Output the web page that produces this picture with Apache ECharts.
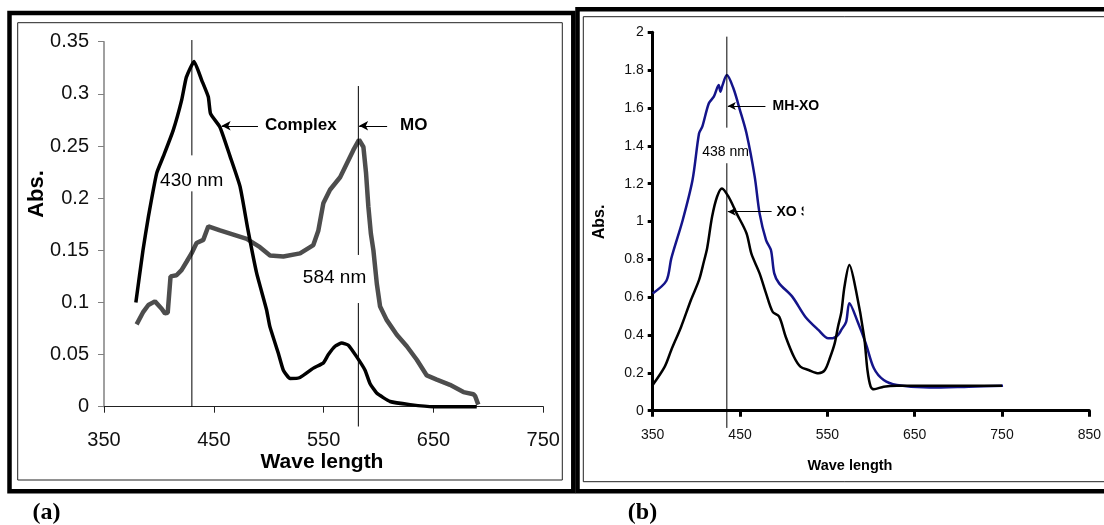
<!DOCTYPE html>
<html lang="en">
    <head>
        <meta charset="UTF-8">
        <script src="https://cdn.jsdelivr.net/npm/echarts@6/dist/echarts.min.js"></script>
        <title>Absorption spectra (a) and (b)</title>
        <style>
            body { margin: 0; background: #fff; }
        </style>
    </head>
    <body>
        <div id="chart-container" style="width: 1104px; height: 525px;"></div>

        <script>
            // panel (a): complex and MO spectra
            const complexWl = [379, 385.5, 390.4, 398, 404, 413, 420.7, 425, 432, 439, 445, 447, 455.6, 464.8, 473.9, 481, 489, 498, 501, 508.8, 513.3, 519.4, 528.5, 540.7, 549.8, 554.3, 560.4, 566.5, 572.5, 580, 587.7, 592.3, 598.4, 610.5, 628.7, 650, 689.4];
            const complexAbs = [0.100, 0.150, 0.182, 0.224, 0.240, 0.265, 0.294, 0.316, 0.331, 0.313, 0.297, 0.281, 0.268, 0.240, 0.211, 0.170, 0.128, 0.093, 0.077, 0.051, 0.035, 0.027, 0.028, 0.037, 0.042, 0.050, 0.058, 0.061, 0.059, 0.048, 0.035, 0.022, 0.013, 0.005, 0.002, 0.000, 0.000];

            const moWl = [379.7, 385.8, 390.4, 396.4, 402.5, 405.5, 408, 410.6, 416, 420.6, 425.2, 429.7, 434.3, 440.4, 445, 455.6, 467.8, 480, 492, 501.2, 513.3, 528.5, 540.6, 545.2, 549.7, 555.8, 565, 571, 577, 582.2, 586.2, 588.6, 590.7, 593, 595.3, 598.4, 601.4, 607.5, 616.6, 625.7, 634.8, 643.9, 653, 665, 677.3, 686.4, 688, 690.8];
            const moAbs = [0.079, 0.091, 0.0975, 0.101, 0.094, 0.0895, 0.090, 0.125, 0.126, 0.131, 0.139, 0.147, 0.157, 0.160, 0.173, 0.169, 0.165, 0.161, 0.153, 0.145, 0.144, 0.147, 0.155, 0.169, 0.195, 0.208, 0.220, 0.233, 0.246, 0.256, 0.249, 0.224, 0.192, 0.166, 0.150, 0.118, 0.096, 0.083, 0.069, 0.058, 0.045, 0.030, 0.026, 0.021, 0.014, 0.012, 0.010, 0.002];

            // panel (b): MH-XO and XO spectra
            const mhxoWl = [350, 365.7, 371.3, 384.4, 395.6, 403.1, 406.8, 414.3, 420, 425.6, 427.5, 430, 434.9, 442.4, 449.9, 457.4, 466.8, 472.4, 479.8, 485.4, 489.2, 494.8, 509.8, 524.7, 539.7, 551, 556, 562.2, 566, 571.5, 575.2, 584.7, 594, 603.3, 614.5, 629.6, 667, 711.9, 751.2];
            const mhxoAbs = [0.620, 0.687, 0.805, 1.008, 1.219, 1.466, 1.501, 1.625, 1.660, 1.721, 1.686, 1.721, 1.774, 1.704, 1.589, 1.466, 1.237, 1.043, 0.902, 0.849, 0.726, 0.673, 0.603, 0.497, 0.427, 0.383, 0.383, 0.400, 0.427, 0.470, 0.568, 0.470, 0.356, 0.224, 0.162, 0.136, 0.122, 0.127, 0.132];

            const xoWl = [350, 363.8, 371.3, 382.6, 393.8, 403.1, 408.7, 412.4, 418, 423.7, 429.3, 436.8, 446.1, 457.4, 463, 472.4, 479.8, 487.3, 494.8, 502.3, 511.7, 519.1, 528.5, 539.8, 547.2, 553, 558.4, 562.2, 566, 569.6, 575.2, 582.7, 592.1, 595.9, 599.6, 603.3, 614.5, 629.6, 750];
            const xoAbs = [0.136, 0.233, 0.321, 0.444, 0.585, 0.691, 0.790, 0.860, 1.025, 1.131, 1.175, 1.131, 1.043, 0.938, 0.830, 0.726, 0.620, 0.523, 0.497, 0.391, 0.285, 0.233, 0.215, 0.198, 0.215, 0.280, 0.356, 0.444, 0.520, 0.655, 0.770, 0.638, 0.391, 0.215, 0.127, 0.113, 0.127, 0.132, 0.132];

            // axis ticks
            const xTicksA = [350, 750, 100];
            const yTicksA = [0, 0.35, 0.05];
            const xTicksB = [350, 850, 100];
            const yTicksB = [0, 2, 0.2];

            const font = "'Liberation Sans', Arial, sans-serif";
            const zip = (xs, ys) => xs.map((x, i) => [x, ys[i]]);
            const arrow = (x0, x1, y) => [[{coord: [x0, y]}, {coord: [x1, y]}]];

            const chartContainer = document.getElementById('chart-container');
            const chart = echarts.init(chartContainer);

            const markStyle = {
                silent: true,
                animation: false,
                label: {show: false},
                lineStyle: {color: '#000', width: 1, type: 'solid'}
            };

            const options = {
                animation: false,
                backgroundColor: '#fff',
                grid: [
                    {left: 104, top: 41.7, width: 439.3, height: 365},
                    {left: 652.7, top: 32.3, width: 445.6, height: 378.4}
                ],
                xAxis: [
                    {
                        type: 'value', gridIndex: 0,
                        min: xTicksA[0], max: xTicksA[1], interval: xTicksA[2],
                        axisLine: {lineStyle: {color: '#222', width: 1}},
                        axisTick: {show: true, length: 6, lineStyle: {color: '#222'}},
                        axisLabel: {color: '#111', fontSize: 20, fontFamily: font, margin: 24},
                        splitLine: {show: false}
                    },
                    {
                        type: 'value', gridIndex: 1,
                        min: xTicksB[0], max: xTicksB[1], interval: xTicksB[2],
                        axisLine: {lineStyle: {color: '#000', width: 3}},
                        axisTick: {show: true, length: 6, lineStyle: {color: '#000', width: 3}},
                        axisLabel: {color: '#111', fontSize: 14, fontFamily: font, margin: 17},
                        splitLine: {show: false}
                    }
                ],
                yAxis: [
                    {
                        type: 'value', gridIndex: 0,
                        min: yTicksA[0], max: yTicksA[1], interval: yTicksA[2],
                        axisLine: {show: true, lineStyle: {color: '#808080', width: 1.5}},
                        axisTick: {show: true, length: 6, lineStyle: {color: '#808080'}},
                        axisLabel: {color: '#111', fontSize: 20, fontFamily: font, margin: 15},
                        splitLine: {show: false}
                    },
                    {
                        type: 'value', gridIndex: 1,
                        min: yTicksB[0], max: yTicksB[1], interval: yTicksB[2],
                        axisLine: {show: true, lineStyle: {color: '#000', width: 3}},
                        axisTick: {show: true, length: 5, lineStyle: {color: '#000', width: 3}},
                        axisLabel: {color: '#111', fontSize: 14, fontFamily: font, margin: 9},
                        splitLine: {show: false}
                    }
                ],
                series: [
                    {
                        name: 'MO', type: 'line', xAxisIndex: 0, yAxisIndex: 0,
                        data: zip(moWl, moAbs), showSymbol: false, clip: false,
                        lineStyle: {color: '#4d4d4d', width: 4.5}
                    },
                    {
                        name: 'Complex', type: 'line', xAxisIndex: 0, yAxisIndex: 0,
                        data: zip(complexWl, complexAbs), showSymbol: false, smooth: 0.15, clip: false,
                        lineStyle: {color: '#000', width: 3.5}
                    },
                    {
                        name: 'arrowsA', type: 'line', xAxisIndex: 0, yAxisIndex: 0, data: [],
                        markLine: Object.assign({symbol: ['none', 'arrow'], symbolSize: [7, 9],
                            data: arrow(490.2, 457.1, 0.2694).concat(arrow(607.8, 582.3, 0.2694))}, markStyle)
                    },
                    {
                        name: 'MH-XO', type: 'line', xAxisIndex: 1, yAxisIndex: 1,
                        data: zip(mhxoWl, mhxoAbs), showSymbol: false, smooth: 0.3, clip: false,
                        lineStyle: {color: '#14148a', width: 2.5}
                    },
                    {
                        name: 'XO', type: 'line', xAxisIndex: 1, yAxisIndex: 1,
                        data: zip(xoWl, xoAbs), showSymbol: false, smooth: 0.3, clip: false,
                        lineStyle: {color: '#000', width: 2.5}
                    },
                    {
                        name: 'arrowsB', type: 'line', xAxisIndex: 1, yAxisIndex: 1, data: [],
                        markLine: Object.assign({symbol: ['none', 'arrow'], symbolSize: [6, 8],
                            data: arrow(479.1, 436, 1.61).concat(arrow(486.2, 436, 1.052))}, markStyle)
                    }
                ]
            };
            chart.setOption(options);

            // annotations placed at data positions
            const px = (g, pt) => chart.convertToPixel({gridIndex: g}, pt);
            const txt = (p, text, size, bold, align) => ({
                type: 'text', x: p[0], y: p[1], silent: true,
                style: {
                    text: text, fill: '#000', textAlign: align || 'center', textVerticalAlign: 'middle',
                    font: (bold ? 'bold ' : '') + size + 'px ' + font
                }
            });
            // vertical peak line, broken where its label sits
            const vline = (g, x, y0, g0, g1, y1) => [[y0, g0], [g1, y1]].map(seg => {
                const a = px(g, [x, seg[0]]);
                const b = px(g, [x, seg[1]]);
                return {type: 'line', silent: true, z: 5,
                    shape: {x1: a[0], y1: a[1], x2: b[0], y2: b[1]},
                    style: {stroke: '#000', lineWidth: 1}};
            });
            const xoPos = px(1, [491.8, 1.052]);

            const graphics = [
                // panel frames
                {type: 'rect', silent: true, shape: {x: 9.5, y: 13, width: 563.8, height: 478.3},
                    style: {fill: 'none', stroke: '#000', lineWidth: 4.5}},
                {type: 'rect', silent: true, shape: {x: 17.7, y: 22.7, width: 544.6, height: 457.3},
                    style: {fill: 'none', stroke: '#222', lineWidth: 1}},
                {type: 'rect', silent: true, shape: {x: 577.5, y: 9.2, width: 600, height: 482.1},
                    style: {fill: 'none', stroke: '#000', lineWidth: 4.5}},
                {type: 'rect', silent: true, shape: {x: 583.3, y: 16.7, width: 600, height: 465},
                    style: {fill: 'none', stroke: '#222', lineWidth: 1}},

                // axis titles
                Object.assign(txt([37, 194], 'Abs.', 22, true), {rotation: Math.PI / 2}),
                txt([322, 462], 'Wave length', 21, true),
                Object.assign(txt([600, 222], 'Abs.', 16, true), {rotation: Math.PI / 2}),
                txt([850, 466], 'Wave length', 14.5, true),

                // annotations
                txt(px(0, [429.9, 0.217]), '430 nm', 19, false),
                txt(px(0, [559.9, 0.1234]), '584 nm', 19, false),
                txt(px(0, [496.5, 0.2694]), 'Complex', 17, true, 'left'),
                txt(px(0, [619.6, 0.2694]), 'MO', 17, true, 'left'),
                txt(px(1, [433.4, 1.369]), '438 nm', 14, false),
                txt(px(1, [487.3, 1.61]), 'MH-XO', 14, true, 'left'),
                txt(xoPos, 'XO S', 14, true, 'left'),
                {type: 'rect', silent: true, z: 10,
                    shape: {x: xoPos[0] + 27, y: xoPos[1] - 9, width: 12, height: 18},
                    style: {fill: '#fff'}},

                // panel letters
                {type: 'text', x: 46.5, y: 513, silent: true,
                    style: {text: '(a)', fill: '#000', textAlign: 'center', textVerticalAlign: 'middle',
                        font: "bold 24px 'Liberation Serif', 'Times New Roman', serif"}},
                {type: 'text', x: 642.5, y: 513, silent: true,
                    style: {text: '(b)', fill: '#000', textAlign: 'center', textVerticalAlign: 'middle',
                        font: "bold 24px 'Liberation Serif', 'Times New Roman', serif"}}
            ]
                .concat(vline(0, 430, 0, 0.2065, 0.241, 0.3516))
                .concat(vline(0, 581.6, -0.019, 0.0994, 0.1455, 0.3075))
                .concat(vline(1, 434.9, -0.091, 1.308, 1.496, 1.977));
            chart.setOption({graphic: graphics});
        </script>
    </body>
</html>
